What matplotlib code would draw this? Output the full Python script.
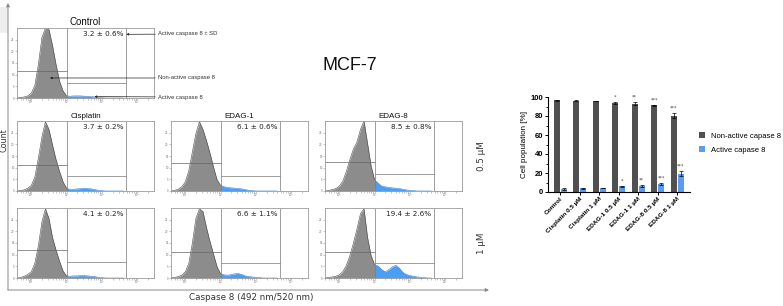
import numpy as np
import matplotlib.pyplot as plt
from matplotlib.patches import Rectangle

W, H = 783, 306

# ---- data ----
# log10 fluorescence grid used for all the flow histograms
log_fl = np.round(np.arange(0.6, 3.61, 0.1), 1)

# normalised counts
control = [0, .008, .015, .03, .07, .18, .48, .86, 1.0, .98, .75, .48, .24, .10, .03,
           .025, .03, .03, .03, .025, .025, .02, .015, .01, .005, 0, 0, 0, 0, 0, 0]
cis_05 = [0, .008, .015, .04, .08, .2, .47, .77, .99, .88, .66, .45, .28, .13, .04,
          .02, .025, .03, .035, .04, .035, .03, .02, .01, .005, 0, 0, 0, 0, 0, 0]
edag1_05 = [0, .01, .025, .06, .13, .29, .56, .82, .99, .88, .72, .54, .34, .16, .08,
            .06, .05, .045, .04, .035, .03, .02, .01, .005, 0, 0, 0, 0, 0, 0, 0]
edag8_05 = [0, .008, .02, .035, .07, .14, .28, .45, .60, .70, .88, 1.0, .68, .36, .16,
            .11, .07, .06, .05, .045, .04, .035, .025, .015, .01, .005, 0, 0, 0, 0, 0]
cis_1 = [0, .008, .025, .05, .09, .21, .46, .80, .99, .85, .58, .40, .24, .10, .03,
         .025, .03, .03, .035, .035, .03, .025, .02, .01, .005, 0, 0, 0, 0, 0, 0]
edag1_1 = [0, .008, .02, .04, .09, .21, .50, .85, .99, .95, .72, .52, .34, .16, .06,
           .045, .04, .05, .06, .065, .05, .03, .02, .015, .01, .005, 0, 0, 0, 0, 0]
edag8_1 = [0, .008, .015, .025, .045, .09, .18, .32, .50, .70, .92, .99, .58, .32, .19,
           .17, .12, .09, .12, .16, .18, .14, .08, .05, .035, .025, .015, .01, .005, 0, 0]

gate = 2.0        # active / non-active boundary (log units)
gate_end = 3.69
# marker heights (fraction of axis) for the two gates, per panel
gate_lo_h = [0.385, 0.377, 0.396, 0.42, 0.405, 0.37, 0.37]
gate_hi_h = [0.216, 0.21, 0.22, 0.236, 0.23, 0.21, 0.21]

groups = ["Control", "Cisplatin 0.5 \u00b5M", "Cisplatin 1 \u00b5M", "EDAG-1 0.5 \u00b5M",
          "EDAG-1 1 \u00b5M", "EDAG-8 0.5 \u00b5M", "EDAG-8 1 \u00b5M"]
active_mean = [3.2, 3.7, 4.1, 6.1, 6.6, 8.5, 19.4]
active_sd = [0.6, 0.2, 0.2, 0.6, 1.1, 0.8, 2.6]
nonactive_mean = [96.6, 96.1, 95.7, 93.7, 93.1, 91.3, 80.4]
nonactive_sd = [0.6, 0.3, 0.3, 0.8, 1.2, 0.8, 2.8]
stars = ["", "", "", "*", "**", "***", "***"]

GRAY = "#8c8c8c"
BLUE = "#4a9ff5"
DARK = "#505050"
BARBLUE = "#5b9cf2"
FRAME = "#9a9a9a"


def rect(x0, y0, x1, y1):
    return [x0 / W, 1 - y1 / H, (x1 - x0) / W, (y1 - y0) / H]


fig = plt.figure(figsize=(W / 100, H / 100), dpi=100)

# background overlay in pixel coords
bg = fig.add_axes([0, 0, 1, 1])
bg.set_xlim(0, W)
bg.set_ylim(H, 0)
bg.axis("off")
bg.add_patch(Rectangle((0, 7), 8, 26, color="#eeeeee", lw=0))
bg.annotate("", xy=(8, 3), xytext=(8, 290),
            arrowprops=dict(arrowstyle="-|>", lw=0.7, color="#888", mutation_scale=5,
                            shrinkA=0, shrinkB=0))
bg.annotate("", xy=(489, 290), xytext=(8, 290),
            arrowprops=dict(arrowstyle="-|>", lw=0.7, color="#888", mutation_scale=5,
                            shrinkA=0, shrinkB=0))
bg.text(4, 140, "Count", rotation=90, ha="center", va="center", fontsize=5.8, color="#333")
bg.text(251, 297, "Caspase 8 (492 nm/520 nm)", ha="center", va="center",
        fontsize=6.3, color="#333")
bg.text(350, 65, "MCF-7", ha="center", va="center", fontsize=13,
        family="Liberation Sans", color="#111")
bg.text(482, 156, "0.5 \u00b5M", rotation=90, ha="center", va="center",
        fontsize=6.3, color="#333")
bg.text(482, 243, "1 \u00b5M", rotation=90, ha="center", va="center",
        fontsize=6.3, color="#333")

panels = [
    ((17, 28, 154, 98), control, "Control", 0),
    ((17, 121, 154, 191), cis_05, "Cisplatin", 1),
    ((171, 121, 308, 191), edag1_05, "EDAG-1", 3),
    ((325, 121, 462, 191), edag8_05, "EDAG-8", 5),
    ((17, 208, 154, 278), cis_1, "", 2),
    ((171, 208, 308, 278), edag1_1, "", 4),
    ((325, 208, 462, 278), edag8_1, "", 6),
]

hist_axes = []
for k, (box, counts, title, gi) in enumerate(panels):
    ax = fig.add_axes(rect(*box))
    c = np.array(counts)
    g = log_fl <= gate + 1e-9
    b = log_fl >= gate - 1e-9
    ax.fill_between(log_fl[g], c[g], color=GRAY, lw=0)
    ax.plot(log_fl[g], c[g], color="#4a4a4a", lw=0.4)
    ax.fill_between(log_fl[b], c[b], color=BLUE, lw=0)
    ax.plot(log_fl[b], c[b], color="#2f7fd8", lw=0.4)
    ax.vlines([gate, gate_end], 0, 1, color="#777", lw=0.5)
    ax.hlines(gate_lo_h[k], 0.595, gate, color="#666", lw=0.5)
    ax.hlines(gate_hi_h[k], gate, gate_end, color="#777", lw=0.5)
    ax.set_xlim(0.595, 4.475)
    ax.set_ylim(0, 1.0)
    ax.set_xticks([1, 2, 3, 4])
    ax.set_xticklabels(["10\u00b9", "10\u00b2", "10\u00b3", "10\u2074"], fontsize=2, color="#777")
    minors = [np.log10(m * 10 ** d) for d in range(0, 5) for m in range(2, 10)]
    ax.set_xticks([v for v in minors if 0.6 < v < 4.47], minor=True)
    ax.set_yticks(np.linspace(0, 1, 7)[:-1])
    ax.set_yticklabels(["0", "5", "10", "15", "20", "25"], fontsize=2, color="#777")
    ax.tick_params(which="both", length=1.2, width=0.4, color="#999", pad=0.5)
    for s in ax.spines.values():
        s.set_color(FRAME)
        s.set_linewidth(0.6)
    txt = f"{active_mean[gi]:.1f} \u00b1 {active_sd[gi]:.1f}%"
    ax.text(3.6, 0.91, txt, ha="right", va="center", fontsize=5.2, color="#222")
    if title:
        ax.set_title(title, fontsize=7 if k == 0 else 5.8, family="Liberation Sans",
                     pad=2, color="#111")
    hist_axes.append(ax)

# legend-like annotations on the control panel
axc = hist_axes[0]
ann = dict(textcoords="figure pixels", ha="left", va="center", fontsize=4.2,
           family="Liberation Sans", color="#333", annotation_clip=False,
           arrowprops=dict(arrowstyle="-|>", lw=0.5, color="#222", mutation_scale=3,
                           shrinkA=0, shrinkB=0))
axc.annotate("Active caspase 8 \u00b1 SD", xy=(gate_end, 0.91), xytext=(158, H - 34), **ann)
axc.annotate("Non-active caspase 8", xy=(1.53, 0.286), xytext=(158, H - 78), **ann)
axc.annotate("Active caspase 8", xy=(2.79, 0.02), xytext=(158, H - 97), **ann)

# ---- bar chart ----
bx = fig.add_axes(rect(548, 97, 690, 192))
x = np.arange(len(groups))
bw = 0.3
bx.bar(x - 0.18, nonactive_mean, bw, color=DARK, label="Non-active capase 8",
       yerr=nonactive_sd, error_kw=dict(lw=0.5, capsize=1.2, capthick=0.5, ecolor="k"))
bx.bar(x + 0.18, active_mean, bw, color=BARBLUE, label="Active capase 8",
       yerr=active_sd, error_kw=dict(lw=0.5, capsize=1.2, capthick=0.5, ecolor="k"))
for i, s in enumerate(stars):
    if s:
        bx.text(x[i] - 0.18, nonactive_mean[i] + nonactive_sd[i] + 2.5, s, ha="center",
                va="bottom", fontsize=3.5, color="#444", clip_on=False)
        bx.text(x[i] + 0.18, active_mean[i] + active_sd[i] + 2.5, s, ha="center",
                va="bottom", fontsize=3.5, color="#444", clip_on=False)
bx.set_xlim(-0.62, 6.66)
bx.set_ylim(0, 100)
bx.set_yticks(range(0, 101, 20))
bx.set_yticks(range(10, 100, 20), minor=True)
bx.set_xticks(x)
bx.set_xticklabels(groups, rotation=45, ha="right", rotation_mode="anchor",
                   fontsize=4.6, fontweight="bold", family="Liberation Sans")
for t in bx.get_yticklabels():
    t.set_fontsize(5.5)
    t.set_fontweight("bold")
    t.set_family("Liberation Sans")
bx.set_ylabel("Cell population [%]", fontsize=5.8, family="Liberation Sans", labelpad=2)
bx.spines[["top", "right"]].set_visible(False)
for s in ["left", "bottom"]:
    bx.spines[s].set_linewidth(0.8)
bx.tick_params(axis="y", which="major", length=2.5, width=0.7, pad=1)
bx.tick_params(axis="y", which="minor", length=1.5, width=0.6)
bx.tick_params(axis="x", length=2, width=0.7, pad=1)
bx.legend(loc="center left", bbox_to_anchor=(695 / W, 1 - 143 / H),
          bbox_transform=fig.transFigure, frameon=False,
          prop=dict(family="Liberation Sans", size=5.5), handlelength=0.8,
          handleheight=0.8, handletextpad=0.8, labelspacing=0.8, borderpad=0)

fig.savefig("out.png", dpi=100)
